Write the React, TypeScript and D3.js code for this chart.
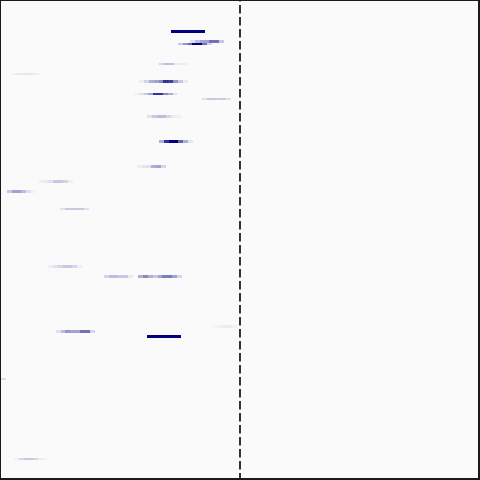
import * as d3 from "d3";

// row index (time step) of each burst
const rows = [12, 16, 17, 25, 29, 32, 37, 39, 46, 56, 66, 72, 76, 83, 106, 110, 110, 130, 132, 134, 151, 183];
// first bin of each burst (fractional bins)
const starts = [35.3, 39.2, 36.7, 32.8, 2.3, 28.7, 27.6, 41.6, 30.3, 32.8, 28.2, 8.0, 1.4, 12.4, 9.9, 21.4, 28.5, 43.9, 11.5, 30.3, 0.2, 2.9];
// intensity per bin, 0..1
const values = [
	[1, 1, 1, 1, 1, 1, 1],
	[0.1, 0.25, 0.35, 0.35, 0.55, 0.55, 0.2],
	[0.2, 0.4, 0.6, 1, 1, 0.55, 0.15],
	[0.15, 0.25, 0.22, 0.07, 0.06, 0.04],
	[0.04, 0.07, 0.08, 0.08, 0.07, 0.04],
	[0.05, 0.15, 0.3, 0.35, 0.45, 0.8, 0.75, 0.4, 0.2, 0.06],
	[0.04, 0.1, 0.2, 0.35, 0.8, 0.8, 0.45, 0.3, 0.1],
	[0.1, 0.2, 0.2, 0.18, 0.2, 0.1],
	[0.1, 0.2, 0.25, 0.25, 0.15, 0.06, 0.04],
	[0.3, 0.8, 1, 1, 0.6, 0.3, 0.08],
	[0.05, 0.08, 0.1, 0.3, 0.35, 0.15],
	[0.05, 0.07, 0.1, 0.2, 0.2, 0.15, 0.05],
	[0.2, 0.35, 0.35, 0.25, 0.1, 0.03],
	[0.1, 0.2, 0.2, 0.2, 0.2, 0.1],
	[0.05, 0.1, 0.15, 0.2, 0.2, 0.15, 0.05],
	[0.15, 0.25, 0.25, 0.2, 0.2, 0.07],
	[0.3, 0.45, 0.3, 0.2, 0.35, 0.5, 0.5, 0.35, 0.15],
	[0.02, 0.04, 0.06, 0.06, 0.04],
	[0.1, 0.25, 0.4, 0.35, 0.35, 0.55, 0.55, 0.15],
	[1, 1, 1, 1, 1, 1, 1],
	[0.12],
	[0.04, 0.15, 0.2, 0.2, 0.15, 0.06, 0.03],
];
const nBins = 99;
const nRows = 192;
const center = nBins / 2;

const W = 480;
const H = 480;

const App = () => {
	const x = d3.scaleLinear().domain([0, nBins]).range([0, W]);
	const y = d3.scaleLinear().domain([0, nRows]).range([0, H]);
	const color = d3.scaleSequential(d3.interpolateRgb("#fafafa", "#000080")).domain([0, 1]);

	const cells = [];
	values.forEach((vals, i) => {
		vals.forEach((v, j) => {
			cells.push({row: rows[i], bin: starts[i] + j, v});
		});
	});

	return (
		<>
			<style>{`body{margin:0}`}</style>
			<svg width={W} height={H} style={{display: "block"}}>
				<rect x={0} y={0} width={W} height={H} fill="#fafafa" />
				<g shapeRendering="crispEdges">
					{cells.map((c, i) => (
						<rect
							key={i}
							x={x(c.bin)}
							y={y(c.row)}
							width={x(c.bin + 1) - x(c.bin)}
							height={y(c.row + 1) - y(c.row)}
							fill={color(c.v)}
						/>
					))}
				</g>
				{/* zero-lag marker */}
				<line
					x1={x(center)}
					x2={x(center)}
					y1={0}
					y2={H}
					stroke="#1e1e1e"
					strokeWidth={1.8}
					strokeDasharray="8.5,3.5"
					strokeDashoffset={7}
				/>
				<rect x={0} y={0} width={W - 1} height={H - 1} fill="none" stroke="#1a1a1a" strokeWidth={2} />
			</svg>
		</>
	);
};

export default App;
